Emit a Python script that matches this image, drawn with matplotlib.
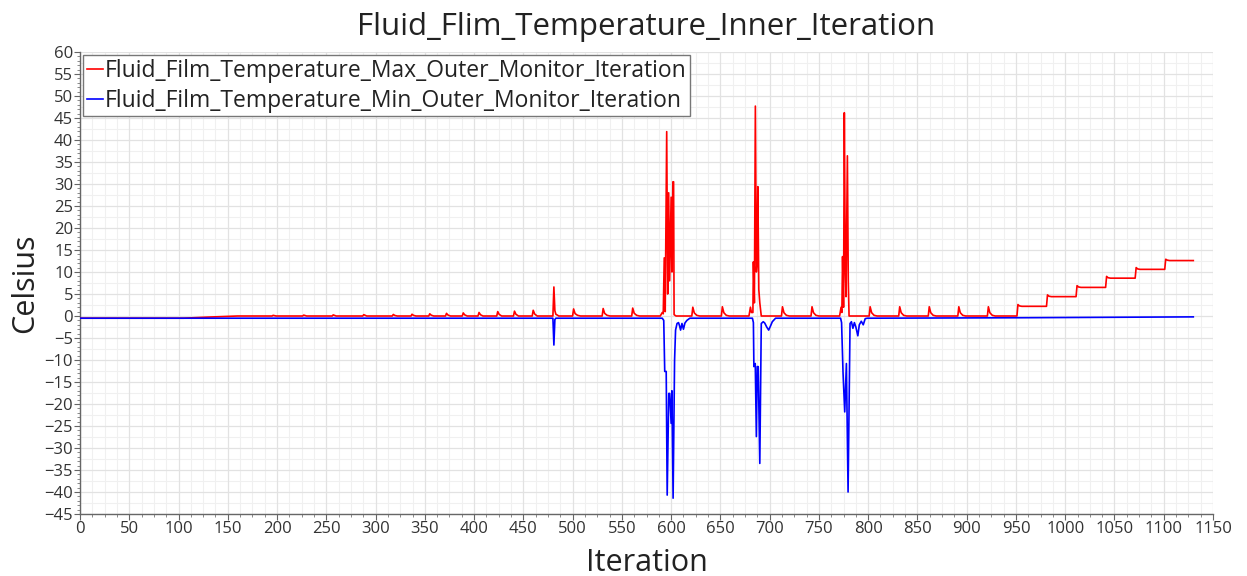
import matplotlib
matplotlib.use("Agg")
import matplotlib.pyplot as plt
import numpy as np
from matplotlib.ticker import MultipleLocator

# ---- series data: (iteration, temperature in Celsius) ----
red_early = [
    (0, -0.5), (105, -0.5), (130, -0.25), (160, 0.0),
    (195, 0.0), (196, 0.15), (199, 0.0),
    (226, 0.0), (227, 0.2), (230, 0.0),
    (256, 0.0), (257, 0.25), (260, 0.0),
    (287, 0.0), (288, 0.3), (291, 0.0),
    (317, 0.0), (318, 0.35), (319.5, 0.12), (322, 0.0),
    (336, 0.0), (337, 0.4), (338.5, 0.14), (341, 0.0),
    (354, 0.0), (355, 0.5), (356.5, 0.18), (359, 0.0),
    (371, 0.0), (372, 0.6), (373.5, 0.21), (376, 0.0),
    (388, 0.0), (389, 0.7), (390.5, 0.25), (393, 0.0),
    (404, 0.0), (405, 0.8), (406.5, 0.28), (409, 0.0),
    (423, 0.0), (424, 1.0), (425.5, 0.35), (428, 0.0),
    (440, 0.0), (441, 1.1), (442.5, 0.38), (445, 0.0),
    (459, 0.0), (460, 1.3), (461.5, 0.45), (464, 0.0),
    (480, 0.0), (481, 6.6), (482, 1.2), (483, 0.4), (486, 0.0),
    (500, 0.0), (501, 1.6), (502.5, 0.55), (505, 0.15), (508, 0.0),
    (530, 0.0), (531, 1.7), (532.5, 0.6), (535, 0.15), (538, 0.0),
    (560, 0.0), (561, 1.8), (562.5, 0.63), (565, 0.15), (568, 0.0),
]
red_burst_a = [
    (589, 0.0), (591, 0.8), (592, 0.5), (593, 13.2), (594, 1.0),
    (595.5, 41.9), (596.5, 5.0), (597.5, 28.0), (598.5, 8.0), (600, 27.0),
    (600.8, 10.0), (601.8, 30.5), (602.5, 30.5), (603, 0.3), (605, 0.0),
]
red_mid = [
    (621, 0.0), (622, 2.0), (623.5, 0.7), (626, 0.15), (629, 0.0),
    (651, 0.0), (652, 2.1), (653.5, 0.75), (656, 0.15), (659, 0.0),
]
red_burst_b = [
    (679, 0.0), (680.5, 2.0), (681.5, 0.8), (683, 0.8), (683.5, 12.3),
    (684.5, 3.0), (685.5, 47.7), (686.5, 10.0), (687.2, 12.0), (688, 29.4),
    (689, 6.0), (690, 3.0), (691.5, 0.0),
]
red_between = [
    (712, 0.0), (713, 2.1), (714.5, 0.75), (717, 0.15), (720, 0.0),
    (742, 0.0), (743, 2.1), (744.5, 0.75), (747, 0.15), (750, 0.0),
]
red_burst_c = [
    (771, 0.0), (772.5, 2.0), (773.3, 0.8), (774, 13.5), (775, 2.0),
    (775.8, 46.2), (776.8, 10.0), (777.5, 4.4), (778.9, 36.4), (779.8, 8.0),
    (780.6, 0.0), (782, 0.0),
]
red_late = [
    (801, 0.0), (802, 2.1), (803.5, 0.75), (806, 0.15), (809, 0.0),
    (831, 0.0), (832, 2.1), (833.5, 0.75), (836, 0.15), (839, 0.0),
    (861, 0.0), (862, 2.1), (863.5, 0.75), (866, 0.15), (869, 0.0),
    (891, 0.0), (892, 2.1), (893.5, 0.75), (896, 0.15), (899, 0.0),
    (921, 0.0), (922, 2.1), (923.5, 0.75), (926, 0.15), (929, 0.0),
]
red_steps = [
    (951, 0.0), (952, 2.6), (953.5, 2.3), (956, 2.2),
    (981, 2.2), (982, 4.8), (983.5, 4.5), (986, 4.4),
    (1011, 4.4), (1012, 6.9), (1013.5, 6.6), (1016, 6.5),
    (1041, 6.5), (1042, 9.0), (1043.5, 8.7), (1046, 8.6),
    (1071, 8.6), (1072, 11.0), (1073.5, 10.7), (1076, 10.6),
    (1101, 10.6), (1102, 12.9), (1103.5, 12.7), (1106, 12.6),
    (1130, 12.6),
]

blue_early = [
    (0, -0.5), (480, -0.5), (481, -6.6), (482, -0.8), (483, -0.5),
]
blue_burst_a = [
    (591, -0.5), (592.5, -1.0), (593.5, -12.6), (595, -12.6), (596, -40.7),
    (597.6, -17.6), (598.6, -17.6), (600, -24.4), (600.8, -17.0),
    (602, -41.4), (603.5, -10.0), (604.5, -3.2), (606, -1.7), (607.5, -1.5),
    (608.5, -2.2), (609.6, -3.2), (611, -1.7), (612.5, -3.0), (614, -1.6),
    (616, -1.0), (619, -0.5),
]
blue_burst_b = [
    (682.5, -0.5), (683.5, -1.5), (684, -11.5), (685.4, -10.8),
    (686.5, -27.4), (687.4, -11.5), (688.4, -11.5), (690, -33.5),
    (691.5, -1.7), (693.5, -1.3), (695, -1.6), (697, -2.5), (699, -3.2),
    (701, -2.2), (702.7, -1.3), (706, -0.5),
]
blue_burst_c = [
    (772, -0.5), (773, -1.5), (774.5, -13.0), (776.2, -21.8), (777.9, -10.8),
    (779.6, -40.0), (781.6, -1.7), (783, -1.3), (784.5, -2.8), (786, -1.5),
    (787.5, -2.5), (789.5, -4.5), (791, -2.0), (793, -1.2), (795, -2.0),
    (797, -0.6), (799, -0.5),
]
blue_late = [
    (950, -0.4), (1130, -0.2),
]

red_segments = [red_early, red_burst_a, red_mid, red_burst_b, red_between,
                red_burst_c, red_late, red_steps]
blue_segments = [blue_early, blue_burst_a, blue_burst_b, blue_burst_c, blue_late]

red_iter = [p[0] for seg in red_segments for p in seg]
red_temp = [p[1] for seg in red_segments for p in seg]
blue_iter = [p[0] for seg in blue_segments for p in seg]
blue_temp = [p[1] for seg in blue_segments for p in seg]

title = "Fluid_Flim_Temperature_Inner_Iteration"
max_label = "Fluid_Film_Temperature_Max_Outer_Monitor_Iteration"
min_label = "Fluid_Film_Temperature_Min_Outer_Monitor_Iteration"

plt.rcParams['font.family'] = ['Open Sans', 'DejaVu Sans']

fig = plt.figure(figsize=(12.47, 5.76), dpi=100)
ax = fig.add_axes([80 / 1247, 1 - 514 / 576, (1213 - 80) / 1247, (514 - 52) / 576])

ax.plot(red_iter, red_temp, color='#ff0000', lw=1.2, label=max_label, zorder=3)
ax.plot(blue_iter, blue_temp, color='#0000ff', lw=1.2, label=min_label, zorder=3)

ax.set_xlim(0, 1150)
ax.set_ylim(-45, 60)
ax.xaxis.set_major_locator(MultipleLocator(50))
ax.xaxis.set_minor_locator(MultipleLocator(12.5))
ax.yaxis.set_major_locator(MultipleLocator(5))
ax.yaxis.set_minor_locator(MultipleLocator(1))

# grid: major lines plus faint half-step lines
ax.grid(which='major', color='#e2e2e2', lw=0.9, zorder=0)
ax.xaxis.grid(which='minor', color='#f0f0f0', lw=0.8, zorder=0)
for v in np.arange(-42.5, 60, 5.0):
    ax.axhline(v, color='#f0f0f0', lw=0.8, zorder=0)
ax.set_axisbelow(True)

for side in ('top', 'right'):
    ax.spines[side].set_visible(False)
for side in ('left', 'bottom'):
    ax.spines[side].set_color('#666666')
    ax.spines[side].set_linewidth(1.0)

ax.tick_params(which='major', direction='out', length=4, width=0.8,
               color='#666666', labelsize=12, labelcolor='#333333', pad=1)
ax.tick_params(which='minor', direction='out', length=2, width=0.6,
               color='#777777')

ax.set_title(title, fontsize=22.5, color='#222222', pad=12)
ax.set_xlabel("Iteration", fontsize=22, color='#222222', labelpad=8)
ax.set_ylabel("Celsius", fontsize=22, color='#222222', labelpad=3)

leg = ax.legend(loc='upper left', bbox_to_anchor=(0.0, 1.0), fontsize=16.5,
                handlelength=0.7, handletextpad=0.1, borderpad=0.15,
                labelspacing=0.25, borderaxespad=0.15, frameon=True,
                fancybox=False, framealpha=1.0)
leg.get_frame().set_edgecolor('#777777')
leg.get_frame().set_linewidth(1.0)
for t in leg.get_texts():
    t.set_color('#222222')

fig.savefig("out.png", dpi=100)
